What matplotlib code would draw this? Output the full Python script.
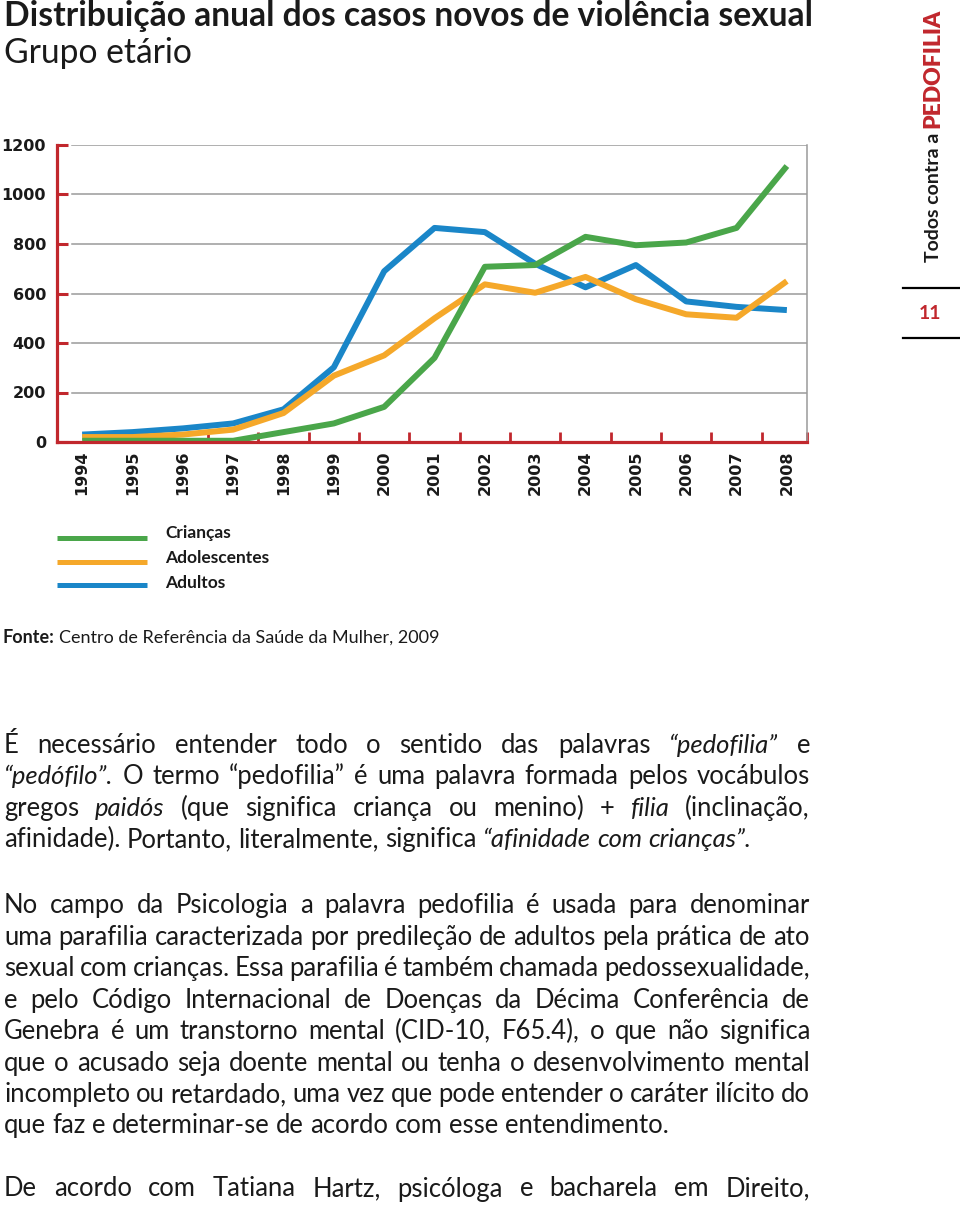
import matplotlib
matplotlib.use("Agg")
import matplotlib.pyplot as plt
from matplotlib.lines import Line2D

years = list(range(1994, 2009))
criancas = [5, 5, 5, 5, 40, 75, 142, 340, 708, 715, 829, 795, 806, 865, 1115]
adolescentes = [20, 20, 30, 50, 117, 268, 350, 500, 637, 603, 667, 577, 516, 502, 650]
adultos = [30, 40, 55, 75, 132, 302, 690, 865, 848, 720, 625, 715, 568, 546, 533]
series_names = ["Crianças", "Adolescentes", "Adultos"]
yticks = [0, 200, 400, 600, 800, 1000, 1200]

title = "Distribuição anual dos casos novos de violência sexual"
subtitle = "Grupo etário"
fonte = "Centro de Referência da Saúde da Mulher, 2009"

# words between _ _ are italic
par1 = [
    "É necessário entender todo o sentido das palavras _“pedofilia”_ e",
    "_“pedófilo”._ O termo “pedofilia” é uma palavra formada pelos vocábulos",
    "gregos _paidós_ (que significa criança ou menino) + _filia_ (inclinação,",
    "afinidade). Portanto, literalmente, significa _“afinidade_ _com_ _crianças”._",
]
par2 = [
    "No campo da Psicologia a palavra pedofilia é usada para denominar",
    "uma parafilia caracterizada por predileção de adultos pela prática de ato",
    "sexual com crianças. Essa parafilia é também chamada pedossexualidade,",
    "e pelo Código Internacional de Doenças da Décima Conferência de",
    "Genebra é um transtorno mental (CID-10, F65.4), o que não significa",
    "que o acusado seja doente mental ou tenha o desenvolvimento mental",
    "incompleto ou retardado, uma vez que pode entender o caráter ilícito do",
    "que faz e determinar-se de acordo com esse entendimento.",
]
par3 = ["De acordo com Tatiana Hartz, psicóloga e bacharela em Direito,"]

green = "#4aa64a"
orange = "#f5a82a"
blue = "#1a86c8"
red = "#c1272d"
grid = "#9a9a9a"
ink = "#1a1a1a"

plt.rcParams["font.family"] = ["Lato", "DejaVu Sans"]

W, H = 960, 1206
fig = plt.figure(figsize=(W / 100, H / 100), dpi=100)
renderer = fig.canvas.get_renderer()


def fx(px):
    return px / W


def fy(py):
    return 1 - py / H


# ---- title
t = fig.text(fx(4), fy(26), title, fontsize=19, fontweight="bold", color=ink, va="baseline")
tw = t.get_window_extent(renderer).width
tsize = 19 * 806 / tw
t.set_fontsize(tsize)
fig.text(fx(4), fy(63), subtitle, fontsize=tsize, fontweight="normal", color=ink, va="baseline")

# ---- chart
ax = fig.add_axes([fx(57), fy(442), 750 / W, 297 / H])
ax.set_xlim(1993.5, 2008.4)
ax.set_ylim(0, 1200)
for vals, c in zip([adultos, adolescentes, criancas], [blue, orange, green]):
    ax.plot(years, vals, color=c, lw=4.3, solid_joinstyle="round", solid_capstyle="butt",
            zorder=4, clip_on=False)
for y in yticks[1:]:
    ax.axhline(y, xmin=0.02, xmax=1, color=grid, lw=1.1, zorder=1)

for s in ["left", "bottom"]:
    ax.spines[s].set_color(red)
    ax.spines[s].set_linewidth(2.3)
    ax.spines[s].set_zorder(5)
ax.spines["right"].set_color(grid)
ax.spines["right"].set_linewidth(1.1)
ax.spines["top"].set_visible(False)

ax.set_yticks(yticks)
ax.set_yticklabels([str(v) for v in yticks], fontfamily="DejaVu Sans", fontweight="bold",
                   fontsize=11.5, color=ink)
ax.tick_params(axis="y", direction="in", length=8, width=2.2, color=red, pad=8)
ax.set_xticks(years)
ax.set_xticklabels([str(y) for y in years], rotation=90, fontfamily="DejaVu Sans",
                   fontweight="bold", fontsize=11.5, color=ink)
ax.tick_params(axis="x", which="major", length=0, pad=6)
ax.set_xticks([y + 0.5 for y in years[:-1]] + [2008.4], minor=True)
ax.tick_params(axis="x", which="minor", direction="in", length=7, width=2, color=red)

# ---- legend
for i, (name, c) in enumerate(zip(series_names, [green, orange, blue])):
    ly = 538 + i * 23.5
    fig.add_artist(Line2D([fx(57), fx(147)], [fy(ly), fy(ly)], transform=fig.transFigure,
                          color=c, lw=3.6, solid_capstyle="butt"))
    fig.text(fx(165), fy(538 + i * 24.8), name, fontsize=12.5, fontweight="bold", color=ink,
             va="baseline")

# ---- source
f1 = fig.text(fx(3), fy(643), "Fonte:", fontsize=13, fontweight="bold", color=ink, va="baseline")
fw = f1.get_window_extent(renderer).width
fig.text(fx(3 + fw + 4), fy(643), fonte, fontsize=13, fontweight="normal", color=ink,
         va="baseline")

# ---- side header
t1 = fig.text(fx(939), fy(262), "Todos contra a", fontsize=14, fontweight="bold", color=ink,
              rotation=90, rotation_mode="anchor", ha="left", va="baseline")
l1 = t1.get_window_extent(renderer).height
fig.text(fx(939), fy(262 - l1 - 5), "PEDOFILIA", fontsize=16.5, fontweight="heavy", color=red,
         rotation=90, rotation_mode="anchor", ha="left", va="baseline")
for ly in [288, 338]:
    fig.add_artist(Line2D([fx(903), fx(960)], [fy(ly), fy(ly)], transform=fig.transFigure,
                          color="black", lw=1.6))
fig.text(fx(930), fy(319), "11", fontsize=14, fontweight="bold", color=red, ha="center",
         va="baseline")

# ---- body text, justified between x=4 and x=810
left, right = 4, 810


def measure_line(line, size):
    ws = []
    for w in line.split(" "):
        it = w.startswith("_") and w.endswith("_")
        tt = fig.text(0, 0, w.strip("_"), fontsize=size,
                      fontstyle="italic" if it else "normal")
        ws.append(tt.get_window_extent(renderer).width)
        tt.remove()
    return ws


base = 16
ws = measure_line(par2[1], base)
natural = sum(ws) + 0.25 * base * 100 / 72 * (len(ws) - 1)
body_size = base * (right - left) / natural
space_px = 0.25 * body_size * 100 / 72


def place_line(line, y, justify):
    objs, widths = [], []
    for w in line.split(" "):
        it = w.startswith("_") and w.endswith("_")
        o = fig.text(0, fy(y), w.strip("_"), fontsize=body_size,
                     fontstyle="italic" if it else "normal", color=ink, va="baseline")
        objs.append(o)
        widths.append(o.get_window_extent(renderer).width)
    gap = space_px
    if justify and len(objs) > 1:
        gap = max((right - left - sum(widths)) / (len(objs) - 1), 2)
    x = left
    for o, w in zip(objs, widths):
        o.set_x(fx(x))
        x += w + gap


for lines, y0, last_just in [(par1, 753, False), (par2, 913.3, False), (par3, 1196.5, True)]:
    for i, line in enumerate(lines):
        just = (i < len(lines) - 1) or last_just
        place_line(line, y0 + i * 31.45, just)

fig.savefig("out.png", dpi=100)
